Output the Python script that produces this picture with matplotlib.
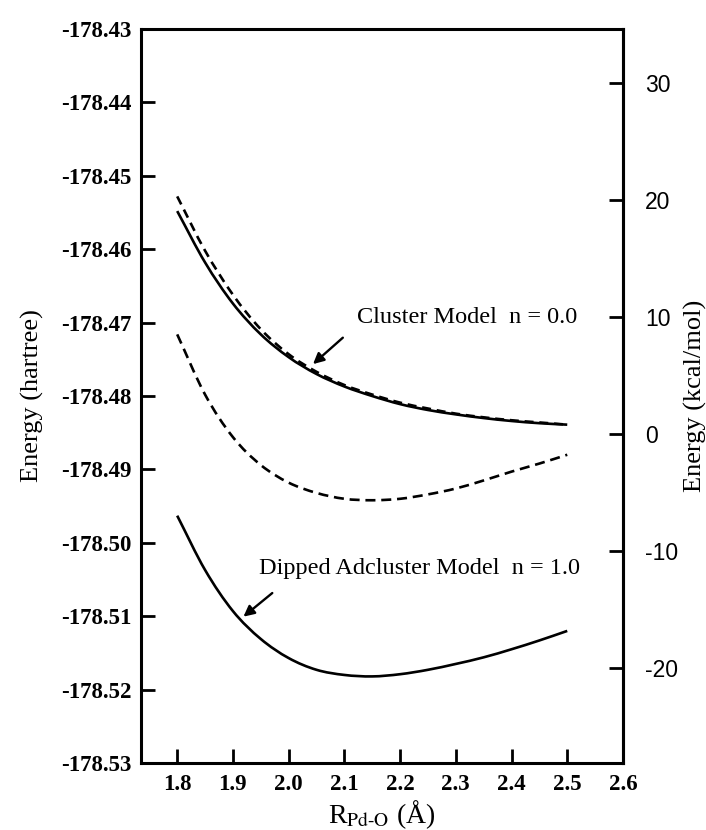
import numpy as np
import matplotlib
matplotlib.use('Agg')
import matplotlib.pyplot as plt
from matplotlib.path import Path
from matplotlib.patches import PathPatch

plt.rcParams['font.family'] = ['Liberation Serif', 'DejaVu Serif']
plt.rcParams['mathtext.fontset'] = 'stix'

# R(Pd-O) in angstrom
r = [1.80, 1.85, 1.90, 1.95, 2.00, 2.05, 2.10, 2.15, 2.20, 2.25, 2.30, 2.35, 2.40, 2.45, 2.50]

# energies in hartree
cluster_solid = [-178.4548, -178.4618, -178.4674, -178.4716, -178.4747, -178.4770, -178.4787, -178.4800,
                 -178.4811, -178.4819, -178.4825, -178.4830, -178.4834, -178.4837, -178.4839]
cluster_dash = [-178.4528, -178.4602, -178.4662, -178.4709, -178.4743, -178.4767, -178.4785, -178.4798,
                -178.4809, -178.4817, -178.4824, -178.4829, -178.4833, -178.4836, -178.4839]
dipped_dash = [-178.4716, -178.4798, -178.4856, -178.4894, -178.4918, -178.4932, -178.4940, -178.4942,
               -178.4940, -178.4934, -178.4926, -178.4915, -178.4903, -178.4892, -178.4880]
dipped_solid = [-178.4963, -178.5037, -178.5093, -178.5131, -178.5157, -178.5173, -178.5180, -178.5182,
                -178.5179, -178.5173, -178.5165, -178.5156, -178.5145, -178.5133, -178.5120]

xticks = [1.8, 1.9, 2.0, 2.1, 2.2, 2.3, 2.4, 2.5, 2.6]
yticks = [-178.43, -178.44, -178.45, -178.46, -178.47, -178.48, -178.49, -178.50, -178.51, -178.52, -178.53]
kticks = [30, 20, 10, 0, -10, -20]

e0 = -178.48516   # zero of the kcal/mol scale
hk = 627.5        # kcal/mol per hartree


def smooth_curve(ax, x, y, **kw):
    # catmull-rom through the read points, drawn as bezier segments
    p = np.column_stack([x, y])
    p = np.vstack([p[0] - (p[1] - p[0]), p, p[-1] + (p[-1] - p[-2])])
    verts = [p[1]]
    codes = [Path.MOVETO]
    for i in range(1, len(p) - 2):
        c1 = p[i] + (p[i + 1] - p[i - 1]) / 6.
        c2 = p[i + 1] - (p[i + 2] - p[i]) / 6.
        verts += [c1, c2, p[i + 1]]
        codes += [Path.CURVE4] * 3
    patch = PathPatch(Path(verts, codes), fill=False, edgecolor='k', capstyle='butt', **kw)
    ax.add_patch(patch)


fig = plt.figure(figsize=(7.06, 8.30), dpi=100)
ax = fig.add_axes([0.1997, 0.0807, 0.6827, 0.8843])

smooth_curve(ax, r, cluster_solid, lw=1.9)
smooth_curve(ax, r, cluster_dash, lw=1.9, linestyle=(0, (3.4, 2.2)))
smooth_curve(ax, r, dipped_dash, lw=1.9, linestyle=(0, (3.8, 2.2)))
smooth_curve(ax, r, dipped_solid, lw=1.9)

ax.set_xlim(1.735, 2.6)
ax.set_ylim(-178.53, -178.43)
ax.set_xticks(xticks)
ax.set_xticklabels(['%.1f' % v for v in xticks])
ax.set_yticks(yticks)
ax.set_yticklabels(['%.2f' % v for v in yticks])

for s in ax.spines.values():
    s.set_linewidth(2.2)
ax.tick_params(axis='both', direction='in', length=10, width=2.0, labelsize=16.5)
ax.tick_params(axis='x', pad=8)
ax.tick_params(axis='y', pad=7, right=False)
for lab in ax.get_xticklabels() + ax.get_yticklabels():
    lab.set_fontweight('bold')

sec = ax.secondary_yaxis('right', functions=(lambda e: (e - e0) * hk, lambda k: k / hk + e0))
sec.set_yticks(kticks)
sec.set_yticklabels([str(v) for v in kticks], fontfamily='Liberation Sans')
sec.tick_params(direction='in', length=10, width=2.0, labelsize=16.5, pad=16)
sec.spines['right'].set_linewidth(2.2)
sec.set_ylabel('Energy (kcal/mol)', fontsize=19, labelpad=4)

ax.set_ylabel('Energy (hartree)', fontsize=19, labelpad=12)
ax.set_xlabel(r'R$_{\mathrm{Pd}\text{-}\mathrm{O}}$ (Å)', fontsize=20, labelpad=2)

ax.text(2.1229, -178.46927, 'Cluster Model  n = 0.0', fontsize=17.5, ha='left', va='center')
ax.annotate('', xy=(2.040, -178.4759), xytext=(2.101, -178.4718),
            arrowprops=dict(arrowstyle='-|>', lw=1.7, color='k', mutation_scale=16))
ax.text(1.9471, -178.5035, 'Dipped Adcluster Model  n = 1.0', fontsize=17.5, ha='left', va='center')
ax.annotate('', xy=(1.915, -178.5103), xytext=(1.9745, -178.5066),
            arrowprops=dict(arrowstyle='-|>', lw=1.7, color='k', mutation_scale=16))

fig.savefig('out.png', dpi=100)
